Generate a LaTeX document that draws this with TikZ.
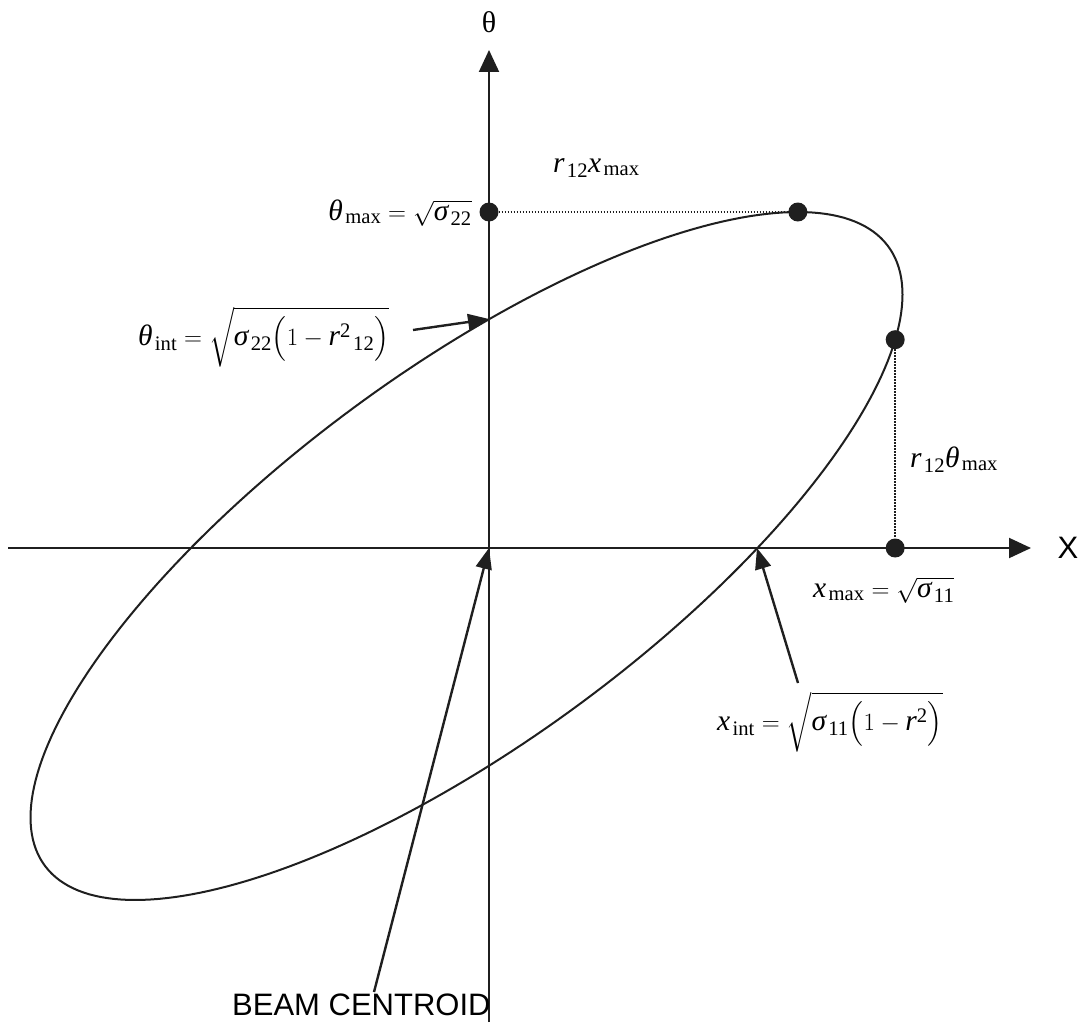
\documentclass[tikz,border=0pt]{standalone}
\usepackage{amsmath}
\usepackage{fontspec}
\setmainfont{Liberation Serif}
\setsansfont{Liberation Sans}
\usetikzlibrary{arrows.meta}
\newcommand\vi[1]{\text{\itshape #1}}
\newcommand\su[1]{_{\mkern2mu\text{#1}}}
\begin{document}
\begin{tikzpicture}[x=1pt,y=-1pt,
  ink/.style={draw=black!88},
  axisline/.style={ink, line width=2pt, -{Triangle[length=22pt,width=20pt]}},
  pointer/.style={ink, line width=2.4pt, -{Triangle[length=21pt,width=16pt]}},
  curve/.style={ink, line width=2pt},
  guide/.style={ink, line width=1.6pt, dash pattern=on 1.6pt off 1.4pt},
  dot/.style={circle, fill=black!88, inner sep=0pt, minimum size=19pt},
  lbl/.style={font=\fontsize{29.5}{34}\selectfont, inner sep=0pt},
  sanslbl/.style={font=\fontsize{31}{36}\selectfont\sffamily, inner sep=0pt},
]
\useasboundingbox (0,0) rectangle (1091,1022);
% axes
\coordinate (O) at (489,548);
\coordinate (xstart) at (8,548);
\coordinate (xend) at (1031,548);
\coordinate (tbot) at (489,1022);
\coordinate (ttop) at (489,50);
\draw[axisline] (xstart) -- (xend);
\draw[axisline] (tbot) -- (ttop);
\node[sanslbl] (Xlab) at (1068,548) {X};
\node[font=\fontsize{30}{36}\selectfont, inner sep=0pt] (thlab) at (489,22) {θ};
% ellipse
\draw[curve] plot[domain=0:360, samples=241]
  ({466.5+436*cos(\x)}, {556-344*(0.76*cos(\x)+0.6499*sin(\x))});
% points
\coordinate (ptop) at ({466.5+436*0.76}, 212);
\coordinate (pright) at ({466.5+436*cos(-10.5)}, {556-344*(0.76*cos(-10.5)+0.6499*sin(-10.5))});
\node[dot] (daxis) at (489,212) {};
\node[dot] (dtop) at (ptop) {};
\node[dot] (dright) at (pright) {};
\node[dot] (dx) at (pright |- O) {};
\draw[guide] (daxis) -- (dtop);
\draw[guide] (dright) -- (dx);
% labels
\node[lbl, anchor=base east] (thmax) at (472,220)
  {$\vi{θ}\su{max} = \sqrt{\vi{σ}\su{22}}$};
\node[lbl, anchor=base west] (rxmax) at (553,172)
  {$\vi{r}\su{12}\vi{x}\su{max}$};
\node[lbl, anchor=base west] (thint) at (138,345)
  {$\vi{θ}\su{int} = \sqrt{\vi{σ}\su{22}\Bigl(1-\vi{r}^{\text{2}}{}\su{12}\Bigr)}$};
\node[lbl, anchor=base west] (rthmax) at (910,467)
  {$\vi{r}\su{12}\vi{θ}\su{max}$};
\node[lbl, anchor=base west] (xmax) at (813,597)
  {$\vi{x}\su{max} = \sqrt{\vi{σ}\su{11}}$};
\node[lbl, anchor=base west] (xint) at (717,730)
  {$\vi{x}\su{int} = \sqrt{\vi{σ}\su{11}\Bigl(1-\vi{r}^{\text{2}}\Bigr)}$};
\node[sanslbl, anchor=base west] (beam) at (232,1015) {BEAM CENTROID};
% pointers
\coordinate (thintTail) at (413,330);
\coordinate (thintTip) at (489,319);
\coordinate (xintTail) at (798,683);
\coordinate (xintTip) at (757,548);
\coordinate (beamTail) at (374,992);
\draw[pointer] (thintTail) -- (thintTip);
\draw[pointer] (xintTail) -- (xintTip);
\draw[pointer] (beamTail) -- (O);
\end{tikzpicture}
\end{document}
